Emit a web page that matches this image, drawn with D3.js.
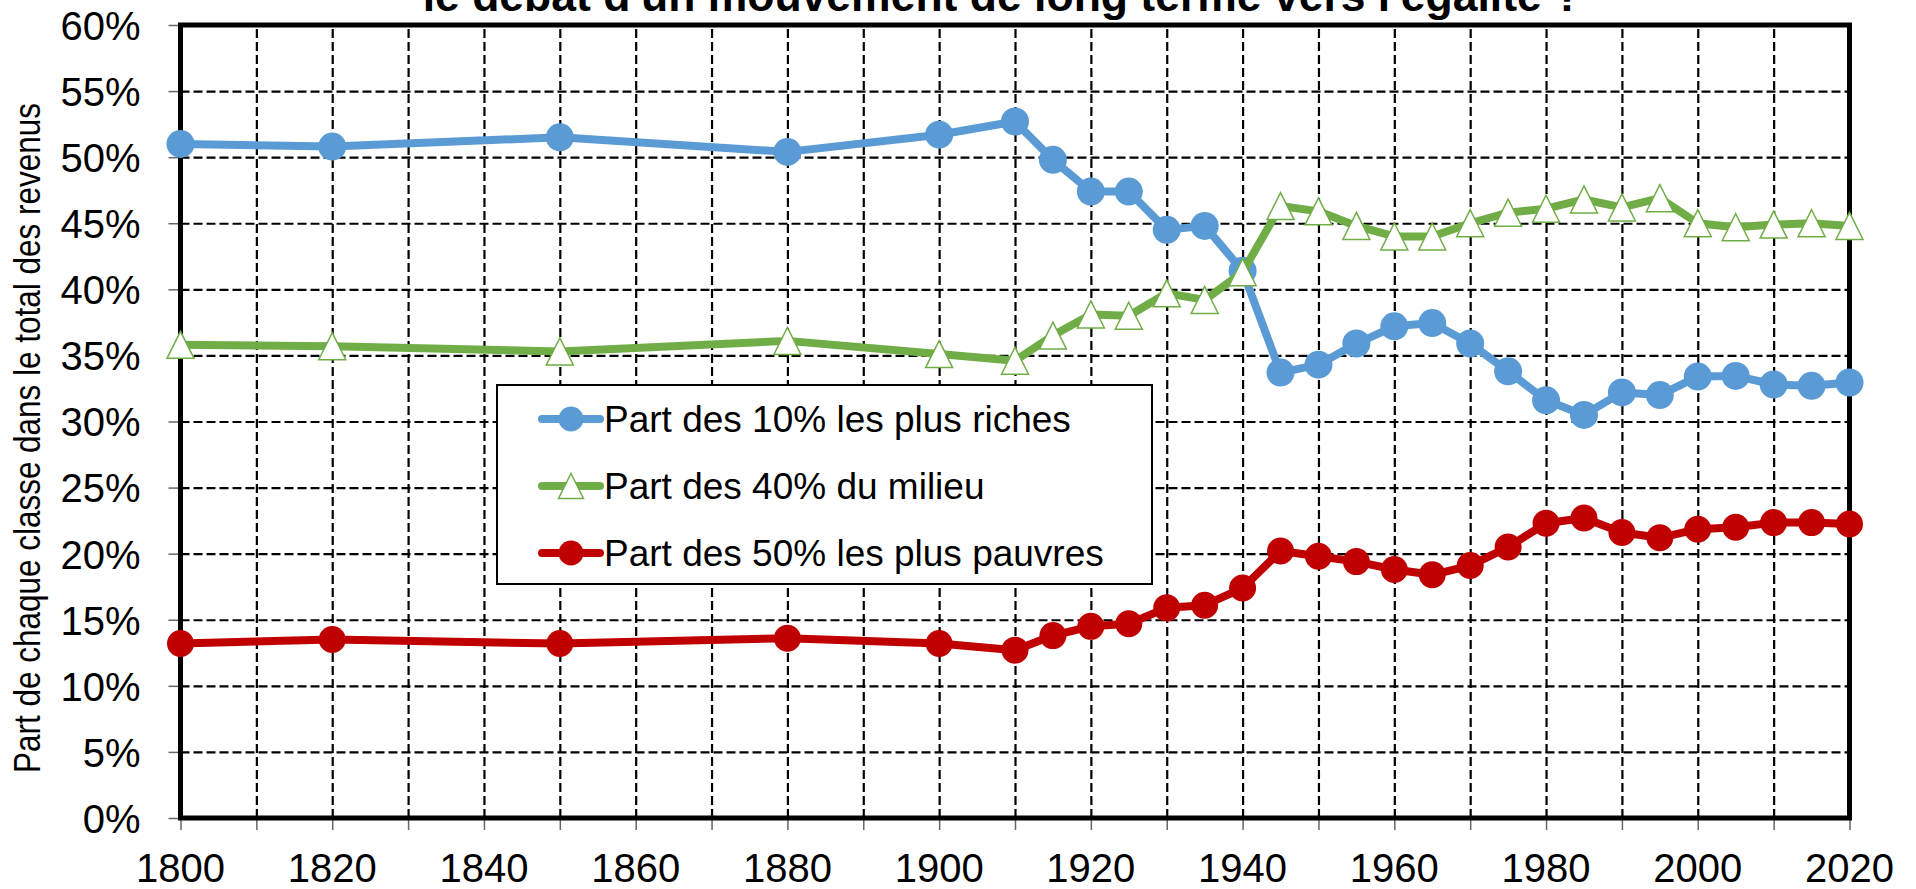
<!DOCTYPE html>
<html>
<head>
<meta charset="utf-8">
<script src="https://cdn.jsdelivr.net/npm/d3@7"></script>
<style>
  body { margin: 0; background: #fff; }
  svg { display: block; font-family: "Liberation Sans", Arial, sans-serif; }
  .grid line { stroke: #000; stroke-width: 2.2; stroke-dasharray: 9,4; }
  .grid path { display: none; }
  .axis path { display: none; }
  .axis line { stroke: #666; stroke-width: 1.5; }
  .axis text { font-size: 40px; fill: #000; }
</style>
</head>
<body>
<div id="chart"></div>
<script>
var years = [1800,1820,1850,1880,1900,1910,1915,1920,1925,1930,1935,1940,1945,1950,1955,1960,1965,1970,1975,1980,1985,1990,1995,2000,2005,2010,2015,2020];
var top10 = [51.0,50.8,51.5,50.4,51.7,52.7,49.8,47.4,47.4,44.5,44.8,41.4,33.7,34.3,35.9,37.2,37.45,35.9,33.8,31.6,30.5,32.2,32.0,33.4,33.45,32.8,32.7,32.95];
var mid40 = [35.8,35.7,35.3,36.1,35.1,34.6,36.5,38.1,38.0,39.7,39.2,41.3,46.3,45.9,44.8,44.0,44.0,45.0,45.8,46.1,46.8,46.2,46.9,45.0,44.7,44.9,45.0,44.8];
var bot50 = [13.2,13.5,13.2,13.6,13.2,12.7,13.8,14.5,14.7,15.9,16.1,17.4,20.2,19.8,19.4,18.8,18.4,19.1,20.5,22.3,22.7,21.6,21.2,21.85,22.0,22.35,22.35,22.25];
var seriesNames = ["Part des 10% les plus riches", "Part des 40% du milieu", "Part des 50% les plus pauvres"];
var xTicks = d3.range(1800, 2021, 10);
var xLabels = d3.range(1800, 2021, 20);
var yTicks = d3.range(0, 61, 5);

var width = 1916, height = 889;
var plotLeft = 180.5, plotRight = 1849.5, plotTop = 25, plotBottom = 818;

var x = d3.scaleLinear().domain([1800, 2020]).range([plotLeft, plotRight]);
var y = d3.scaleLinear().domain([0, 60]).range([plotBottom, plotTop]);

var svg = d3.select("#chart").append("svg")
    .attr("width", width)
    .attr("height", height);

svg.append("rect").attr("width", width).attr("height", height).attr("fill", "#fff");

// grid
svg.append("g")
    .attr("class", "grid")
    .attr("transform", "translate(0," + plotBottom + ")")
    .call(d3.axisBottom(x).tickValues(xTicks.slice(1, -1)).tickSize(-(plotBottom - plotTop)).tickFormat(""));
svg.append("g")
    .attr("class", "grid")
    .attr("transform", "translate(" + plotLeft + ",0)")
    .call(d3.axisLeft(y).tickValues(yTicks.slice(1, -1)).tickSize(-(plotRight - plotLeft)).tickFormat(""));

// axes
var xAxis = svg.append("g")
    .attr("class", "axis")
    .attr("transform", "translate(0," + plotBottom + ")")
    .call(d3.axisBottom(x).tickValues(xTicks).tickSize(12).tickPadding(0).tickFormat(""));
xAxis.selectAll(".lbl")
    .data(xLabels)
  .enter().append("text")
    .attr("class", "lbl")
    .attr("x", function(d) { return x(d); })
    .attr("y", 64)
    .attr("text-anchor", "middle")
    .text(function(d) { return d; });

svg.append("g")
    .attr("class", "axis")
    .attr("transform", "translate(" + plotLeft + ",0)")
    .call(d3.axisLeft(y).tickValues(yTicks).tickSize(12).tickPadding(28).tickFormat(function(d) { return d + "%"; }))
  .selectAll("text")
    .attr("dy", "0.36em");

// plot border
svg.append("rect")
    .attr("x", plotLeft).attr("y", plotTop)
    .attr("width", plotRight - plotLeft).attr("height", plotBottom - plotTop)
    .attr("fill", "none")
    .attr("stroke", "#000")
    .attr("stroke-width", 5);

// series
var series = [
  { name: seriesNames[0], values: top10, color: "#5B9BD5", marker: "circle", r: 14 },
  { name: seriesNames[1], values: mid40, color: "#70AD47", marker: "triangle", r: 13.5 },
  { name: seriesNames[2], values: bot50, color: "#C00000", marker: "circle", r: 13.5 }
];

var line = d3.line()
    .x(function(d, i) { return x(years[i]); })
    .y(function(d) { return y(d); });

function drawMarker(g, s, cx, cy) {
  if (s.marker == "circle") {
    g.append("circle")
      .attr("cx", cx).attr("cy", cy).attr("r", s.r)
      .attr("fill", s.color);
  } else {
    var h = s.r;
    g.append("path")
      .attr("d", "M" + cx + "," + (cy - h) + "L" + (cx + h) + "," + (cy + h) + "L" + (cx - h) + "," + (cy + h) + "Z")
      .attr("fill", "#fff")
      .attr("stroke", s.color)
      .attr("stroke-width", 1.5);
  }
}

series.forEach(function(s) {
  var g = svg.append("g");
  g.append("path")
    .datum(s.values)
    .attr("d", line)
    .attr("fill", "none")
    .attr("stroke", s.color)
    .attr("stroke-width", 8)
    .attr("stroke-linejoin", "round")
    .attr("stroke-linecap", "round");
  s.values.forEach(function(v, i) {
    drawMarker(g, s, x(years[i]), y(v));
  });
});

// legend
var legend = svg.append("g");
legend.append("rect")
    .attr("x", 497).attr("y", 385)
    .attr("width", 655).attr("height", 199)
    .attr("fill", "#fff")
    .attr("stroke", "#000")
    .attr("stroke-width", 2);

series.forEach(function(s, i) {
  var cy = 419 + i * 67;
  var lg = legend.append("g");
  lg.append("line")
    .attr("x1", 542).attr("x2", 600)
    .attr("y1", cy).attr("y2", cy)
    .attr("stroke", s.color)
    .attr("stroke-width", 8)
    .attr("stroke-linecap", "round");
  drawMarker(lg, { marker: s.marker, color: s.color, r: 12.5 }, 571, cy);
  lg.append("text")
    .attr("x", 604)
    .attr("y", cy)
    .attr("dy", "0.36em")
    .attr("font-size", 37)
    .text(s.name);
});

// y axis title
svg.append("text")
    .attr("transform", "translate(40,438) rotate(-90)")
    .attr("text-anchor", "middle")
    .attr("font-size", 37)
    .attr("textLength", 670)
    .attr("lengthAdjust", "spacingAndGlyphs")
    .style("font-family", "'Liberation Sans Narrow', 'Liberation Sans', Arial, sans-serif")
    .text("Part de chaque classe dans le total des revenus");

// title (top part is off the picture)
svg.append("text")
    .attr("x", 1002)
    .attr("y", 11)
    .attr("text-anchor", "middle")
    .attr("font-size", 44.5)
    .attr("font-weight", "bold")
    .text("le débat d'un mouvement de long terme vers l'égalité ?");
</script>
</body>
</html>
